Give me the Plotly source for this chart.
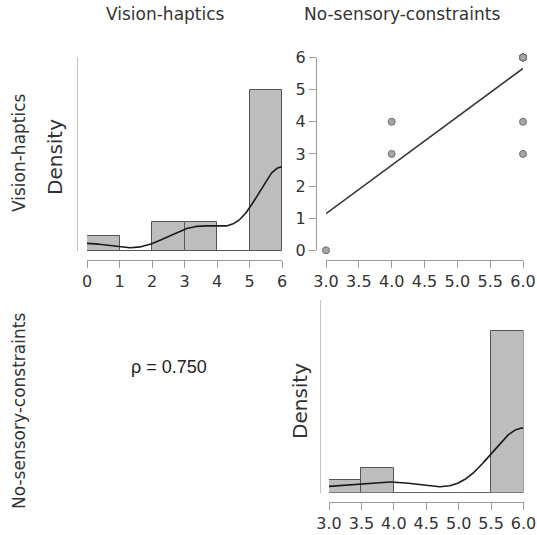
import numpy as np
import plotly.graph_objects as go

# ---- data ----
variables = ["Vision-haptics", "No-sensory-constraints"]
vision_haptics = [0, 3, 4, 3, 4, 6, 6, 6, 6, 6, 6, 6, 6, 6, 6, 6]
no_sensory_constraints = [3, 4, 4, 6, 6, 6, 6, 6, 6, 6, 6, 6, 6, 6, 6, 6]
vh_breaks = [0, 1, 2, 3, 4, 5, 6]
nsc_breaks = [3.0, 3.5, 4.0, 4.5, 5.0, 5.5, 6.0]
vh_ticks = [0, 1, 2, 3, 4, 5, 6]
nsc_ticks = [3.0, 3.5, 4.0, 4.5, 5.0, 5.5, 6.0]
scatter_yticks = [0, 1, 2, 3, 4, 5, 6]
rho_value = 0.750

W, H = 537, 535
FONT = "DejaVu Sans"
AXCOL = "#9a9a9a"
TXT = "#333333"


def fx(px):
    return px / W


def fy(py):
    return 1 - py / H


def hist_density(x, breaks):
    x = np.asarray(x, float)
    b = np.asarray(breaks, float)
    idx = np.clip(np.searchsorted(b, x, side="left") - 1, 0, len(b) - 2)
    counts = np.bincount(idx, minlength=len(b) - 1)
    widths = np.diff(b)
    dens = counts / (len(x) * widths)
    mids = (b[:-1] + b[1:]) / 2
    return mids, dens, widths


def bw_nrd0(x):
    x = np.asarray(x, float)
    hi = np.std(x, ddof=1)
    q75, q25 = np.percentile(x, [75, 25])
    lo = min(hi, (q75 - q25) / 1.34)
    if lo == 0:
        lo = hi or abs(x[0]) or 1.0
    return 0.9 * lo * len(x) ** -0.2


def kde(x, lo, hi):
    x = np.asarray(x, float)
    bw = bw_nrd0(x)
    g = np.linspace(lo, hi, 400)
    z = (g[:, None] - x[None, :]) / bw
    d = np.exp(-0.5 * z ** 2).sum(axis=1) / (len(x) * bw * np.sqrt(2 * np.pi))
    return g, d


fig = go.Figure()

# ---- top-left histogram: Vision-haptics ----
m, d, w = hist_density(vision_haptics, vh_breaks)
fig.add_trace(go.Bar(x=m, y=d, width=w, marker=dict(color="#bdbdbd", line=dict(color="#555555", width=1)),
                     xaxis="x", yaxis="y", showlegend=False))
g, kd = kde(vision_haptics, vh_breaks[0], vh_breaks[-1])
fig.add_trace(go.Scatter(x=g, y=kd, mode="lines", line=dict(color="#1a1a1a", width=1.6),
                         xaxis="x", yaxis="y", showlegend=False))
vh_ymax = d.max() * 194 / 161.3

# ---- top-right scatter ----
xs = np.asarray(no_sensory_constraints, float)
ys = np.asarray(vision_haptics, float)
slope, intercept = np.polyfit(xs, ys, 1)
lx = np.array([nsc_ticks[0], nsc_ticks[-1]])
fig.add_trace(go.Scatter(x=lx, y=intercept + slope * lx, mode="lines", line=dict(color="#333333", width=1.5),
                         xaxis="x2", yaxis="y2", showlegend=False))
fig.add_trace(go.Scatter(x=xs, y=ys, mode="markers", cliponaxis=False,
                         marker=dict(size=7, color="#a6a6a6", line=dict(color="#6e6e6e", width=1)),
                         xaxis="x2", yaxis="y2", showlegend=False))

# ---- bottom-right histogram: No-sensory-constraints ----
m3, d3, w3 = hist_density(no_sensory_constraints, nsc_breaks)
fig.add_trace(go.Bar(x=m3, y=d3, width=w3, marker=dict(color="#bdbdbd", line=dict(color="#555555", width=1)),
                     xaxis="x3", yaxis="y3", showlegend=False))
g3, kd3 = kde(no_sensory_constraints, nsc_breaks[0], nsc_breaks[-1])
fig.add_trace(go.Scatter(x=g3, y=kd3, mode="lines", line=dict(color="#1a1a1a", width=1.6),
                         xaxis="x3", yaxis="y3", showlegend=False))
nsc_ymax = d3.max() * 192.3 / 161.3

tickfont = dict(family=FONT, size=16, color=TXT)
common_x = dict(showline=True, linecolor=AXCOL, linewidth=1, ticks="outside", ticklen=7, tickcolor=AXCOL,
                showgrid=False, zeroline=False, anchor="free", tickfont=tickfont, fixedrange=True)
common_y = dict(showline=True, linecolor=AXCOL, linewidth=1, showgrid=False, zeroline=False, anchor="free",
                fixedrange=True)
HISTY = "#c4c4c4"

fig.update_layout(
    width=W, height=H, margin=dict(l=0, r=0, t=0, b=0, pad=0, autoexpand=False),
    paper_bgcolor="white", plot_bgcolor="white", bargap=0,
    xaxis=dict(common_x, domain=[fx(87), fx(282)], range=[vh_breaks[0], vh_breaks[-1]],
               tickvals=vh_ticks, position=fy(260)),
    yaxis=dict(common_y, domain=[fy(251), fy(57)], range=[0, vh_ymax], showticklabels=False,
               ticks="", position=fx(77), linecolor=HISTY),
    xaxis2=dict(common_x, domain=[fx(326), fx(523)], range=[nsc_ticks[0], nsc_ticks[-1]],
                tickvals=nsc_ticks, tickformat=".1f", position=fy(260)),
    yaxis2=dict(common_y, domain=[fy(250.3), fy(57.5)], range=[scatter_yticks[0], scatter_yticks[-1]],
                tickvals=scatter_yticks, ticks="outside", ticklen=7, tickcolor=AXCOL, tickfont=tickfont,
                position=fx(316)),
    xaxis3=dict(common_x, domain=[fx(329), fx(523.5)], range=[nsc_breaks[0], nsc_breaks[-1]],
                tickvals=nsc_ticks, tickformat=".1f", position=fy(502)),
    yaxis3=dict(common_y, domain=[fy(492.7), fy(300)], range=[0, nsc_ymax], showticklabels=False,
                ticks="", position=fx(320), linecolor=HISTY),
)

ann = []
titlefont = dict(family=FONT, size=17, color=TXT)
ann.append(dict(text=variables[0], x=fx(165), y=fy(14), font=titlefont))
ann.append(dict(text=variables[1], x=fx(402), y=fy(14), font=titlefont))
ann.append(dict(text=variables[0], x=fx(19), y=fy(153), textangle=-90, font=titlefont))
ann.append(dict(text=variables[1], x=fx(19), y=fy(411), textangle=-90, font=titlefont))
densfont = dict(family=FONT, size=20, color=TXT)
ann.append(dict(text="Density", x=fx(55), y=fy(157), textangle=-90, font=densfont))
ann.append(dict(text="Density", x=fx(300), y=fy(401), textangle=-90, font=densfont))
ann.append(dict(text="\u03c1 = %.3f" % rho_value, x=fx(169), y=fy(367),
                font=dict(family="Liberation Sans", size=18, color="#222222")))
for a in ann:
    a.update(xref="paper", yref="paper", xanchor="center", yanchor="middle", showarrow=False)
fig.update_layout(annotations=ann)

fig.write_html("out.html", config={"displayModeBar": False},
               post_script="document.body.style.margin='0px';document.body.style.overflow='hidden';")
